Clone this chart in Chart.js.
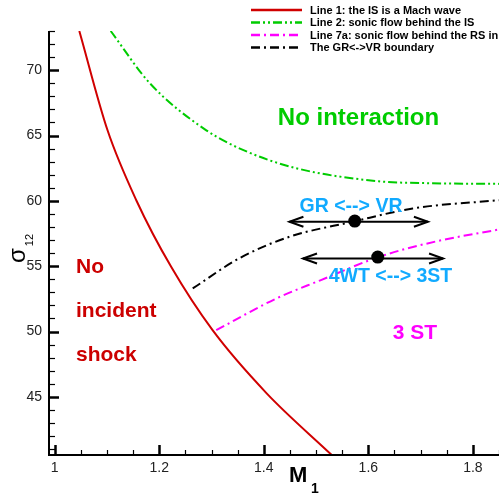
<!DOCTYPE html>
<html><head><meta charset="utf-8">
<script src="https://cdn.jsdelivr.net/npm/chart.js@4/dist/chart.umd.min.js"></script>
<style>html,body{margin:0;padding:0;background:#fff;}canvas{display:block;}</style>
</head><body>
<canvas id="c" width="499" height="494"></canvas>
<script>
// ---- data ----
const line1X = [1.047, 1.101, 1.156, 1.223, 1.302, 1.405, 1.530];
const line1Y = [73.0, 65.4, 60.05, 54.93, 50.1, 45.29, 40.55];
const line2X = [1.107, 1.182, 1.290, 1.360, 1.462, 1.620, 1.720, 1.850];
const line2Y = [73.0, 69.0, 65.4, 63.9, 62.5, 61.5, 61.35, 61.3];
const line7aX = [1.309, 1.424, 1.507, 1.621, 1.730, 1.850];
const line7aY = [50.1, 52.53, 53.9, 55.72, 56.9, 57.81];
const grvrX = [1.264, 1.353, 1.449, 1.570, 1.685, 1.850];
const grvrY = [53.3, 55.6, 57.25, 58.4, 59.42, 60.05];
const seriesNames = ['Line 1: the IS is a Mach wave','Line 2: sonic flow behind the IS','Line 7a: sonic flow behind the RS in','The GR<->VR boundary'];
const xMajorTicks = [1, 1.2, 1.4, 1.6, 1.8];
const xTickLabels = ['1', '1.2', '1.4', '1.6', '1.8'];
const yMajorTicks = [45, 50, 55, 60, 65, 70];
const yTickLabels = ['45', '50', '55', '60', '65', '70'];
// transition markers (x, y) and arrow spans
const dotX = [1.574, 1.618];
const dotY = [58.45, 55.7];
const arrowX1 = [1.449, 1.475];
const arrowX2 = [1.714, 1.743];
const arrowY = [58.4, 55.59];

const colors = ['#d00000', '#00cc00', '#ff00ff', '#000000'];
const dashes = [[], [9,3,2,3,2,3], [9,4,2,4], [9,4,2,4]];
const FONT = '"Liberation Sans", Arial, Helvetica, sans-serif';

function pts(xs, ys){ return xs.map((x,i)=>({x:x, y:ys[i]})); }
const allX = [line1X, line2X, line7aX, grvrX];
const allY = [line1Y, line2Y, line7aY, grvrY];

const deco = {
  id: 'deco',
  afterDatasetsDraw(chart){
    const ctx = chart.ctx, xs = chart.scales.x, ys = chart.scales.y, a = chart.chartArea;
    ctx.save();
    // arrows
    ctx.strokeStyle = '#000'; ctx.lineWidth = 2; ctx.setLineDash([]);
    for (let i=0;i<arrowY.length;i++){
      const p1 = xs.getPixelForValue(arrowX1[i]), p2 = xs.getPixelForValue(arrowX2[i]), py = ys.getPixelForValue(arrowY[i]);
      ctx.beginPath(); ctx.moveTo(p1,py); ctx.lineTo(p2,py); ctx.stroke();
      ctx.beginPath(); ctx.moveTo(p1+14,py-5); ctx.lineTo(p1,py); ctx.lineTo(p1+14,py+5); ctx.stroke();
      ctx.beginPath(); ctx.moveTo(p2-14,py-5); ctx.lineTo(p2,py); ctx.lineTo(p2-14,py+5); ctx.stroke();
    }
    // dots
    ctx.fillStyle = '#000';
    for (let i=0;i<dotX.length;i++){
      ctx.beginPath(); ctx.arc(xs.getPixelForValue(dotX[i]), ys.getPixelForValue(dotY[i]), 6.5, 0, Math.PI*2); ctx.fill();
    }
    // axes
    ctx.strokeStyle = '#000'; ctx.lineWidth = 2;
    ctx.beginPath(); ctx.moveTo(a.left, a.top); ctx.lineTo(a.left, a.bottom); ctx.lineTo(a.right, a.bottom); ctx.stroke();
    // y ticks
    for (let v=Math.ceil(ys.min); v<=Math.floor(ys.max); v++){
      const py = Math.round(ys.getPixelForValue(v)) + 0.5;
      const len = (v % 5 === 0) ? 10 : 6;
      ctx.lineWidth = (v % 5 === 0) ? 2.5 : 1.2;
      ctx.beginPath(); ctx.moveTo(a.left, py); ctx.lineTo(a.left+len, py); ctx.stroke();
    }
    // x ticks
    for (let k=Math.ceil(xs.min*20); k<=Math.floor(xs.max*20); k++){
      const v = k/20;
      const px = Math.round(xs.getPixelForValue(v)) + 0.5;
      const major = (k % 4 === 0);
      ctx.lineWidth = major ? 2.5 : 1.2;
      ctx.beginPath(); ctx.moveTo(px, a.bottom); ctx.lineTo(px, a.bottom-(major?10:5)); ctx.stroke();
    }
    // tick labels
    ctx.fillStyle = '#222'; ctx.font = '14px ' + FONT;
    ctx.textAlign = 'right'; ctx.textBaseline = 'middle';
    yMajorTicks.forEach((v,i)=>ctx.fillText(yTickLabels[i], 42, ys.getPixelForValue(v)));
    ctx.textAlign = 'center'; ctx.textBaseline = 'alphabetic';
    xMajorTicks.forEach((v,i)=>ctx.fillText(xTickLabels[i], xs.getPixelForValue(v), 472));
    // axis titles
    ctx.fillStyle = '#000';
    ctx.font = 'bold 22px ' + FONT; ctx.textAlign = 'left';
    ctx.fillText('M', 289, 482);
    ctx.font = 'bold 14px ' + FONT;
    ctx.fillText('1', 311, 493);
    ctx.save();
    ctx.translate(25, 263); ctx.rotate(-Math.PI/2);
    ctx.font = '24px ' + FONT; ctx.textAlign = 'left';
    ctx.fillText('σ', 0, 0);
    const w = ctx.measureText('σ').width;
    ctx.font = '11px ' + FONT;
    ctx.fillText('12', w+2, 8);
    ctx.restore();
    // region labels
    ctx.textAlign = 'center';
    ctx.fillStyle = '#00cc00'; ctx.font = 'bold 24px ' + FONT;
    ctx.fillText('No interaction', 358.5, 125);
    ctx.fillStyle = '#11aaff'; ctx.font = 'bold 19.5px ' + FONT;
    ctx.fillText('GR <--> VR', 351, 211.5);
    ctx.fillText('4WT <--> 3ST', 390.5, 281.5);
    ctx.fillStyle = '#ff00ff'; ctx.font = 'bold 21px ' + FONT;
    ctx.fillText('3 ST', 415, 339);
    ctx.fillStyle = '#cc0000'; ctx.font = 'bold 21px ' + FONT; ctx.textAlign = 'left';
    ctx.fillText('No', 76, 273);
    ctx.fillText('incident', 76, 317);
    ctx.fillText('shock', 76, 361);
    // legend
    const rowsY = [10, 22.5, 35, 47.5];
    ctx.font = 'bold 11px ' + FONT; ctx.textBaseline = 'middle';
    for (let i=0;i<4;i++){
      ctx.strokeStyle = colors[i]; ctx.lineWidth = 2.5; ctx.setLineDash(dashes[i]);
      ctx.beginPath(); ctx.moveTo(251, rowsY[i]); ctx.lineTo(302, rowsY[i]); ctx.stroke();
      ctx.setLineDash([]);
      ctx.fillStyle = '#000';
      ctx.fillText(seriesNames[i], 310, rowsY[i]+0.5);
    }
    ctx.restore();
  }
};

new Chart(document.getElementById('c'), {
  type: 'scatter',
  data: {
    datasets: allX.map((xsArr,i)=>({
      label: seriesNames[i],
      data: pts(xsArr, allY[i]),
      showLine: true,
      borderColor: colors[i],
      borderWidth: 2,
      borderDash: dashes[i],
      pointRadius: 0,
      cubicInterpolationMode: 'monotone',
      fill: false
    }))
  },
  options: {
    responsive: false,
    devicePixelRatio: 1,
    animation: false,
    layout: { padding: { left: 49, right: 0, top: 31, bottom: 39 } },
    plugins: { legend: { display: false }, tooltip: { enabled: false } },
    scales: {
      x: { type: 'linear', min: 0.989, max: 1.85, display: false },
      y: { type: 'linear', min: 40.55, max: 73, display: false }
    }
  },
  plugins: [deco]
});
</script>
</body></html>
